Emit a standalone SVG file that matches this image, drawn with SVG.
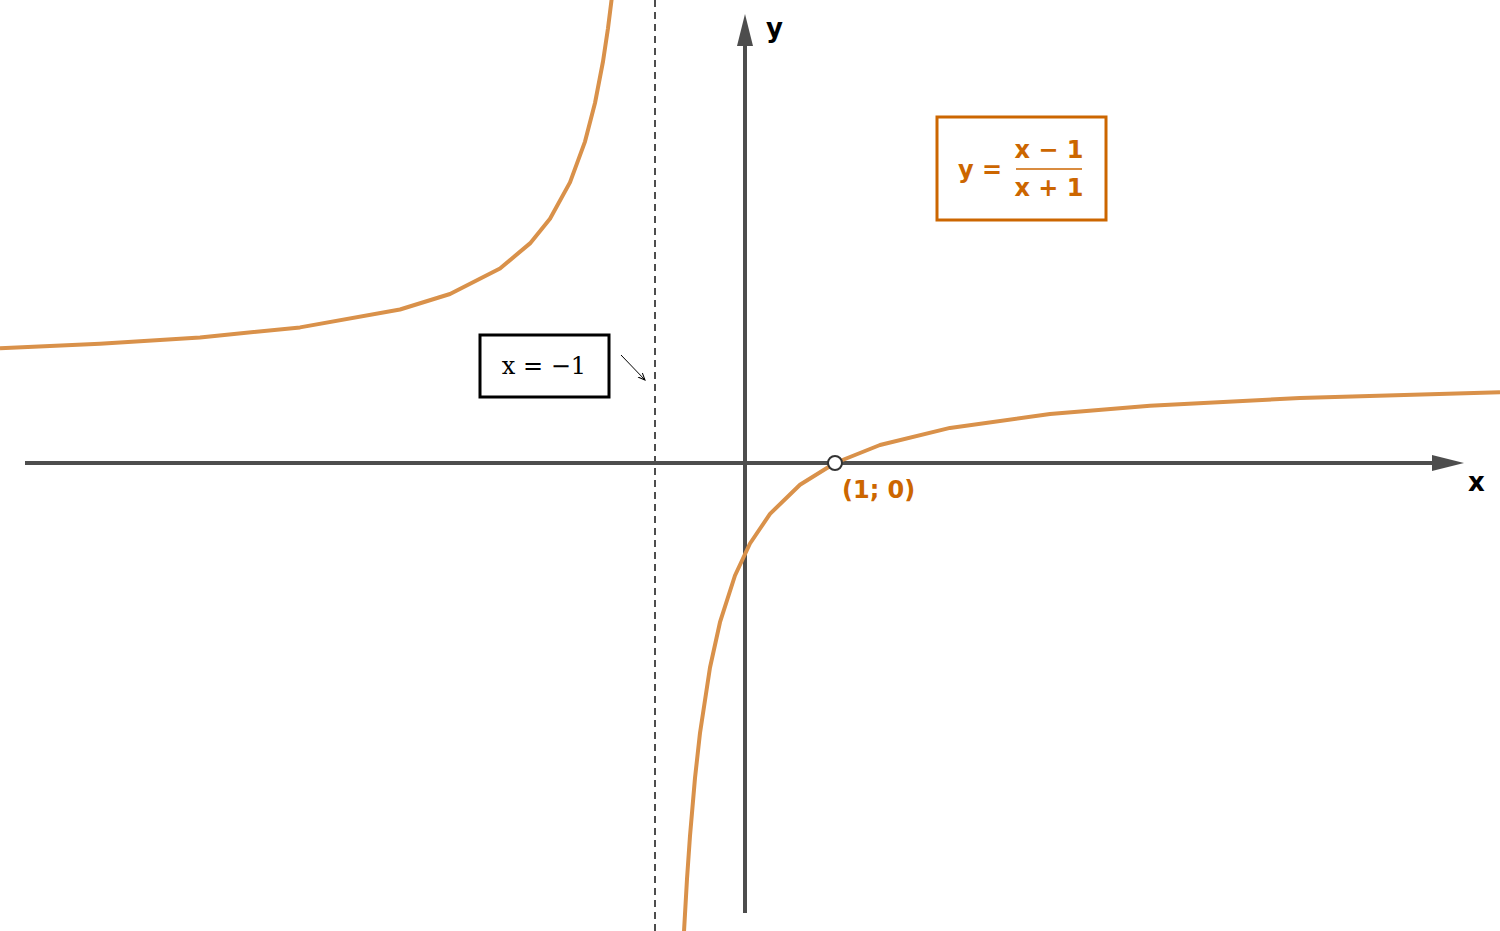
<svg xmlns="http://www.w3.org/2000/svg" width="1500" height="931" viewBox="0 0 1500 931">
<style>
.ax{stroke:#4d4d4d;stroke-width:4;fill:none}
.cv{stroke:#d9914a;stroke-width:4;fill:none;stroke-linejoin:round}
.lb{font-family:"DejaVu Sans",sans-serif;font-weight:bold}
.or{fill:#cc6600}
</style>
<defs>
<marker id="ah" markerWidth="10" markerHeight="8" refX="1" refY="4" orient="auto" markerUnits="userSpaceOnUse" viewBox="0 0 10 8"><path d="M0,0L10,4L0,8z" fill="#4d4d4d"/></marker>
<marker id="sm" markerWidth="8" markerHeight="8" refX="7" refY="4" orient="auto" markerUnits="userSpaceOnUse" viewBox="0 0 8 8"><path d="M0,1L7,4L0,7" fill="none" stroke="#000" stroke-width="1"/></marker>
</defs>
<rect width="1500" height="931" fill="#fff"/>
<g id="connectors">
<line class="ax" x1="25" y1="463" x2="1435" y2="463"/>
<path d="M1432,455L1464,463L1432,471z" fill="#4d4d4d"/>
<line class="ax" x1="745" y1="913" x2="745" y2="45"/>
<path d="M737,46L745,14L753,46z" fill="#4d4d4d"/>
<line x1="655" y1="0" x2="655" y2="931" stroke="#4d4d4d" stroke-width="2" stroke-dasharray="7,5"/>
<line x1="621" y1="355" x2="645" y2="380" stroke="#000" stroke-width="1" marker-end="url(#sm)"/>
</g>
<g id="curve">
<polyline class="cv" points="0,348.3 100,343.8 200,337.4 300,327.4 400,309.5 450,294 500,268.5 530,243.4 550,218.7 570,182.4 585,141.6 595,103 603,61.5 608,28.3 612,-3.7"/>
<polyline class="cv" points="684,931.6 687,879 690,835.9 695,778 700,733 710,667.5 720,622.2 735,575.5 750,543.5 770,513.9 800,484.7 835,463 880,445 950,427.9 1050,414 1150,405.7 1300,398.1 1500,392.2"/>
</g>
<g id="labels">
<text class="lb" x="1468" y="491" font-size="26">x</text>
<text class="lb" x="766" y="37" font-size="26">y</text>
</g>
<g id="asymptote-label">
<rect x="480" y="335" width="129" height="62" fill="#fff" stroke="#000" stroke-width="3"/>
<text x="544" y="374" font-size="24" text-anchor="middle" font-family="DejaVu Serif,serif">x = −1</text>
</g>
<g id="formula">
<rect x="937" y="117" width="169" height="103" fill="#fff" stroke="#cc6600" stroke-width="3"/>
<text class="lb or" x="958" y="178" font-size="24">y =</text>
<text class="lb or" x="1049" y="158" font-size="24" text-anchor="middle">x − 1</text>
<line x1="1016" y1="169" x2="1082" y2="169" stroke="#cc6600" stroke-width="1.5"/>
<text class="lb or" x="1049" y="196" font-size="24" text-anchor="middle">x + 1</text>
</g>
<g id="point">
<circle cx="835" cy="463" r="7" fill="#fff" stroke="#333" stroke-width="2"/>
<text class="lb or" x="842" y="498" font-size="24">(1;  0)</text>
</g>
</svg>
